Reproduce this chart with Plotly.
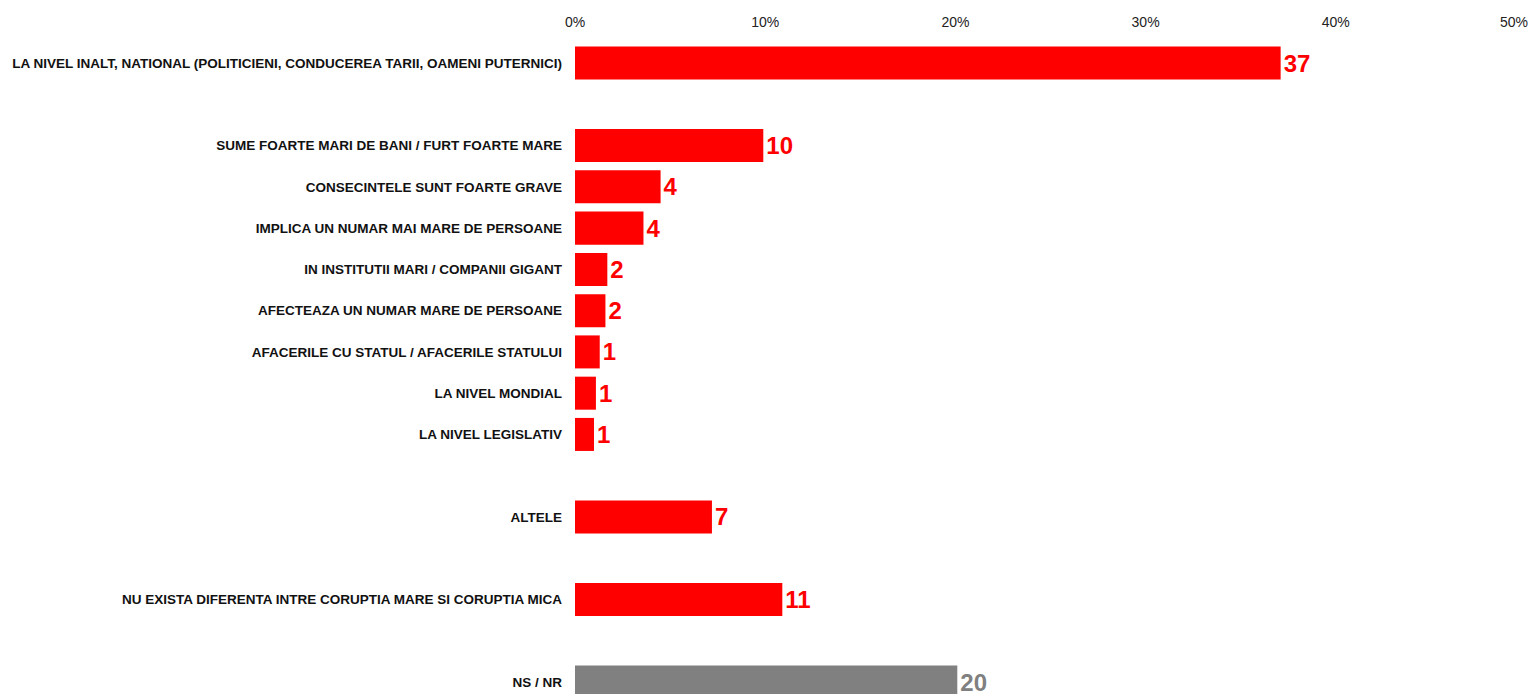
import plotly.graph_objects as go

# answers (blank strings are spacer rows between groups)
categories = [
    "LA NIVEL INALT, NATIONAL (POLITICIENI, CONDUCEREA TARII, OAMENI PUTERNICI)",
    " ",
    "SUME FOARTE MARI DE BANI / FURT FOARTE MARE",
    "CONSECINTELE SUNT FOARTE GRAVE",
    "IMPLICA UN NUMAR MAI MARE DE PERSOANE",
    "IN INSTITUTII MARI / COMPANII GIGANT",
    "AFECTEAZA UN NUMAR MARE DE PERSOANE",
    "AFACERILE CU STATUL / AFACERILE STATULUI",
    "LA NIVEL MONDIAL",
    "LA NIVEL LEGISLATIV",
    "  ",
    "ALTELE",
    "   ",
    "NU EXISTA DIFERENTA INTRE CORUPTIA MARE SI CORUPTIA MICA",
    "    ",
    "NS / NR",
]
values = [37.1, None, 9.9, 4.5, 3.6, 1.7, 1.6, 1.3, 1.1, 1.0, None, 7.2, None, 10.9, None, 20.1]
colors = ["#FF0000"] * 15 + ["#808080"]

x_ticks = [0, 10, 20, 30, 40, 50]
x_ticktext = ["0%", "10%", "20%", "30%", "40%", "50%"]

labels = ["" if v is None else str(round(v)) for v in values]

fig = go.Figure(go.Bar(
    y=categories, x=values, orientation="h",
    marker=dict(color=colors, line=dict(width=0)),
    width=0.8,
    text=labels, textposition="outside", constraintext="none", cliponaxis=False,
    textfont=dict(family="Liberation Sans", size=24, color=colors, weight="bold"),
))

tick_font = dict(family="Liberation Sans", size=14, color="#222222")

# page body adds an 8px offset, margins are compensated for it
fig.update_layout(
    width=1531, height=694,
    margin=dict(l=567, r=13, t=27, b=8, autoexpand=False),
    plot_bgcolor="white", paper_bgcolor="white",
    showlegend=False,
)
# last tick label is right-aligned so it stays inside the page
fig.add_annotation(
    x=x_ticks[-1], xref="x", y=1, yref="paper", text=x_ticktext[-1],
    xanchor="right", yanchor="bottom", xshift=4, yshift=3,
    showarrow=False, font=tick_font,
)
fig.update_xaxes(
    side="top", range=[0, 50], tickvals=x_ticks[:-1], ticktext=x_ticktext[:-1],
    showgrid=False, zeroline=False, showline=False, automargin=False,
    ticklabelstandoff=4, tickfont=tick_font,
)
fig.update_yaxes(
    categoryorder="array", categoryarray=categories,
    range=[15.29, -0.68], showgrid=False, zeroline=False, showline=False,
    automargin=False, ticklabelstandoff=12,
    tickfont=dict(family="Liberation Sans", size=13.5, color="#111111", weight="bold"),
)

fig.write_html("out.html")
